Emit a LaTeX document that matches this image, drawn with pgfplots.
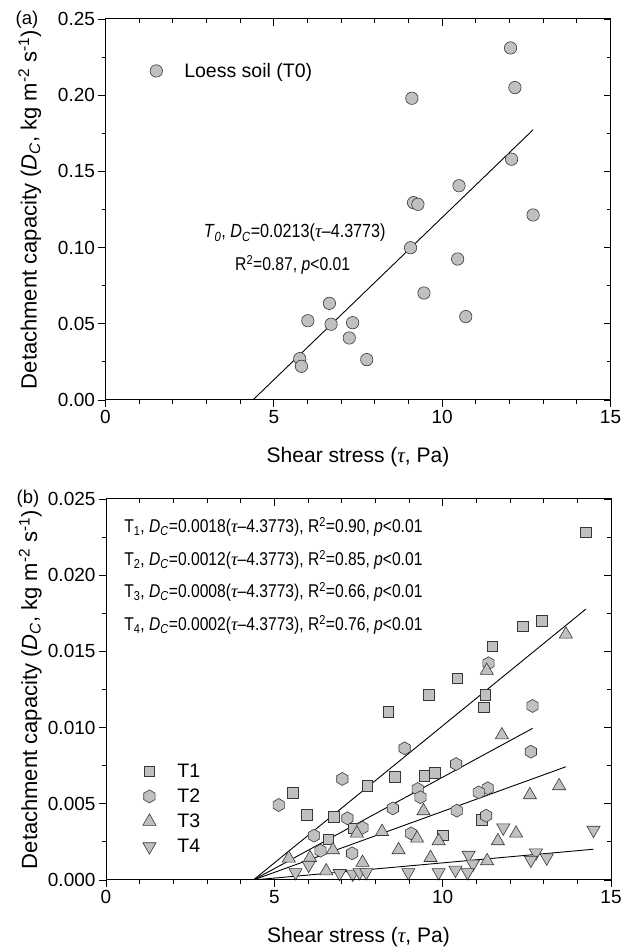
\documentclass[border=0pt]{standalone}
\usepackage{pgfplots}
\pgfplotsset{compat=1.18}
\usepackage{fontspec}
\setmainfont{Liberation Sans}
\newfontfamily\narrowfont{Liberation Sans}[FakeStretch=0.85]
\newfontfamily\narrowfontb{Liberation Sans}[FakeStretch=0.845]
\newfontfamily\tnr{Liberation Serif}
\definecolor{mfill}{RGB}{192,192,192}
\definecolor{medge}{RGB}{55,55,55}

\pgfdeclareplotmark{hexagon*}{%
  \pgfpathmoveto{\pgfqpointpolar{90}{\pgfplotmarksize}}%
  \pgfpathlineto{\pgfqpointpolar{150}{\pgfplotmarksize}}%
  \pgfpathlineto{\pgfqpointpolar{210}{\pgfplotmarksize}}%
  \pgfpathlineto{\pgfqpointpolar{270}{\pgfplotmarksize}}%
  \pgfpathlineto{\pgfqpointpolar{330}{\pgfplotmarksize}}%
  \pgfpathlineto{\pgfqpointpolar{30}{\pgfplotmarksize}}%
  \pgfpathclose
  \pgfusepathqfillstroke}

\tikzset{mko/.style={fill=mfill, draw=medge, line width=0.6pt}}

\pgfplotsset{
  panel/.style={
    scale only axis, width=505pt, height=381pt,
    xmin=0, xmax=15, xtick={0,5,10,15}, minor x tick num=4,
    axis line style={line width=1pt},
    tick style={line width=0.8pt, black},
    major tick length=7pt, minor tick length=4pt,
    tick label style={font=\fontsize{19}{21}\selectfont},
    xlabel style={font=\fontsize{21}{24}\selectfont, at={(axis description cs:0.5,-0.15)}, anchor=center},
    ylabel style={font=\fontsize{22}{24}\selectfont, at={(axis description cs:-0.15,0.5)}, anchor=center},
    /pgf/number format/assume math mode=true,
    scaled y ticks=false,
  },
  mirror/.style={panel, tick pos=right, tick align=inside, xticklabels={}, yticklabels={}},
  mk/.style={only marks},
  fit/.style={black, line width=0.9pt, forget plot},
  legimg/.style={legend image code/.code={\pgfpathrectangle{\pgfpoint{-7pt}{-5pt}}{\pgfpoint{28pt}{10pt}}\pgfusepath{discard}\draw[##1, overlay] plot coordinates {(0pt,0pt)};}},
  leg/.style={legend style={draw=none, fill=none, inner sep=0pt, column sep=7pt,
    font=\fontsize{19.5}{21}\selectfont, nodes={inner sep=0pt, font=\fontsize{19.5}{21}\selectfont}}},
}

\begin{document}
\begin{tikzpicture}[x=1pt,y=1pt]
\path[use as bounding box] (0,0) rectangle (633,949);

% ---------------- panel (a) ----------------
\begin{axis}[panel, at={(105.5pt,549pt)}, anchor=south west,
  ymin=0, ymax=0.25, ytick={0,0.05,0.10,0.15,0.20,0.25}, minor y tick num=1,
  tick pos=left, tick align=outside,
  yticklabel style={/pgf/number format/.cd, fixed, fixed zerofill, precision=2},
  xlabel={Shear stress ({\tnr\itshape τ}, Pa)},
  ylabel={Detachment capacity (\textit{D}\textsubscript{\textit{C}}, kg m\textsuperscript{-2} s\textsuperscript{-1})},
  legimg, leg, legend cell align=left,
  legend style={at={(axis cs:1.295,0.2159)}, anchor=west},
]
\addplot[mk, mark=*, mark size=6.2pt, mark options={mko}] coordinates {
(12.03,0.231) (12.16,0.205) (9.10,0.198) (12.06,0.158) (10.50,0.1406)
(9.15,0.1295) (9.28,0.1284) (12.70,0.1214) (9.06,0.0999) (10.46,0.0925)
(9.46,0.0702) (6.65,0.0634) (6.01,0.052) (6.70,0.0497) (7.34,0.0507)
(10.70,0.0547) (7.24,0.0407) (5.77,0.0271) (5.82,0.0221) (7.76,0.0265)
};
\addlegendentry{Loess soil (T0)}
\addplot[fit] coordinates {(4.3773,0) (12.70,0.1773)};
\node[anchor=base, font=\narrowfont\fontsize{19}{21}\selectfont] at (axis cs:5.62,0.1065)
  {\textit{T}\textsubscript{\textit{0}}, \textit{D}\textsubscript{\textit{C}}=0.0213({\tnr\itshape τ}–4.3773)};
\node[anchor=base, font=\narrowfont\fontsize{18.5}{20}\selectfont] at (axis cs:5.56,0.0848)
  {R\textsuperscript{2}=0.87, \textit{p}<0.01};
\end{axis}
\begin{axis}[mirror, at={(105.5pt,549pt)}, anchor=south west,
  ymin=0, ymax=0.25, ytick={0,0.05,0.10,0.15,0.20,0.25}, minor y tick num=1]
\end{axis}
\node[font=\fontsize{18.5}{20}\selectfont] at (27,929) {(a)};

% ---------------- panel (b) ----------------
\begin{axis}[panel, at={(106pt,69pt)}, anchor=south west,
  ymin=0, ymax=0.025, ytick={0,0.005,0.010,0.015,0.020,0.025}, minor y tick num=1,
  tick pos=left, tick align=outside,
  yticklabel style={/pgf/number format/.cd, fixed, fixed zerofill, precision=3},
  xlabel={Shear stress ({\tnr\itshape τ}, Pa)},
  ylabel={Detachment capacity (\textit{D}\textsubscript{\textit{C}}, kg m\textsuperscript{-2} s\textsuperscript{-1})},
  legimg, leg, legend cell align=left,
  legend style={at={(axis cs:1.076,0.00763)}, anchor=north west, row sep=10pt},
]
\addplot[mk, mark=square*, mark size=5.2pt, mark options={mko}] coordinates {
(14.25,0.02281) (12.95,0.01702) (12.38,0.01664) (11.48,0.01533) (10.43,0.01323)
(9.59,0.01214) (11.27,0.01214) (11.22,0.01133) (8.38,0.01104) (8.58,0.00678)
(9.46,0.00685) (9.77,0.00704) (7.76,0.00617) (5.55,0.00573) (5.96,0.00427)
(6.77,0.00416) (11.16,0.00394) (10.00,0.00295) (6.60,0.00267) (7.35,0.00340)
};
\addlegendentry{T1}
\addplot[mk, mark=hexagon*, mark size=6.5pt, mark options={mko}] coordinates {
(11.36,0.01422) (12.67,0.01142) (12.62,0.00842) (8.87,0.00864) (10.40,0.00761)
(7.02,0.00663) (11.34,0.00602) (11.07,0.00575) (9.26,0.00597) (9.34,0.00543)
(5.13,0.00492) (8.52,0.00470) (10.42,0.00455) (11.29,0.00422) (7.17,0.00405)
(7.62,0.00343) (6.18,0.00291) (9.06,0.00306) (6.37,0.00192) (7.31,0.00175)
};
\addlegendentry{T2}
\addplot[mk, mark=triangle*, mark size=7.6pt, mark options={mko}] coordinates {
(13.66,0.01612) (11.31,0.01374) (11.76,0.00951) (13.46,0.00617) (12.59,0.00558)
(9.43,0.00453) (8.20,0.00317) (7.45,0.00306) (9.24,0.00273) (12.18,0.00306)
(9.88,0.00256) (11.64,0.00256) (8.69,0.00197) (6.74,0.00197) (9.64,0.00146)
(11.32,0.00125) (6.06,0.00146) (5.43,0.00142) (7.62,0.00114) (6.54,0.00059)
};
\addlegendentry{T3}
\addplot[mk, mark=triangle*, mark size=7.6pt, mark options={mko, rotate=180}] coordinates {
(14.48,0.00328) (11.80,0.00343) (10.77,0.00164) (10.90,0.00105) (12.77,0.00179)
(12.62,0.00131) (13.09,0.00146) (6.02,0.00098) (5.63,0.00050) (8.98,0.00050)
(9.88,0.00050) (10.38,0.00066) (10.74,0.00050) (6.94,0.00044) (7.33,0.00040)
(7.53,0.00050) (7.73,0.00050)
};
\addlegendentry{T4}
\addplot[fit] coordinates {(4.3773,0) (14.25,0.01777)};
\addplot[fit] coordinates {(4.3773,0) (12.67,0.00995)};
\addplot[fit] coordinates {(4.3773,0) (13.66,0.00743)};
\addplot[fit] coordinates {(4.3773,0) (14.48,0.00202)};
\node[anchor=base west, font=\narrowfontb\fontsize{18.5}{20}\selectfont] at (axis cs:0.44,0.02279)
  {T\textsubscript{1}, \textit{D}\textsubscript{\textit{C}}=0.0018({\tnr\itshape τ}–4.3773), R\textsuperscript{2}=0.90, \textit{p}<0.01};
\node[anchor=base west, font=\narrowfontb\fontsize{18.5}{20}\selectfont] at (axis cs:0.44,0.02065)
  {T\textsubscript{2}, \textit{D}\textsubscript{\textit{C}}=0.0012({\tnr\itshape τ}–4.3773), R\textsuperscript{2}=0.85, \textit{p}<0.01};
\node[anchor=base west, font=\narrowfontb\fontsize{18.5}{20}\selectfont] at (axis cs:0.44,0.01852)
  {T\textsubscript{3}, \textit{D}\textsubscript{\textit{C}}=0.0008({\tnr\itshape τ}–4.3773), R\textsuperscript{2}=0.66, \textit{p}<0.01};
\node[anchor=base west, font=\narrowfontb\fontsize{18.5}{20}\selectfont] at (axis cs:0.44,0.01636)
  {T\textsubscript{4}, \textit{D}\textsubscript{\textit{C}}=0.0002({\tnr\itshape τ}–4.3773), R\textsuperscript{2}=0.76, \textit{p}<0.01};
\end{axis}
\begin{axis}[mirror, at={(106pt,69pt)}, anchor=south west,
  ymin=0, ymax=0.025, ytick={0,0.005,0.010,0.015,0.020,0.025}, minor y tick num=1]
\end{axis}
\node[font=\fontsize{18.5}{20}\selectfont] at (28,450) {(b)};
\end{tikzpicture}
\end{document}
